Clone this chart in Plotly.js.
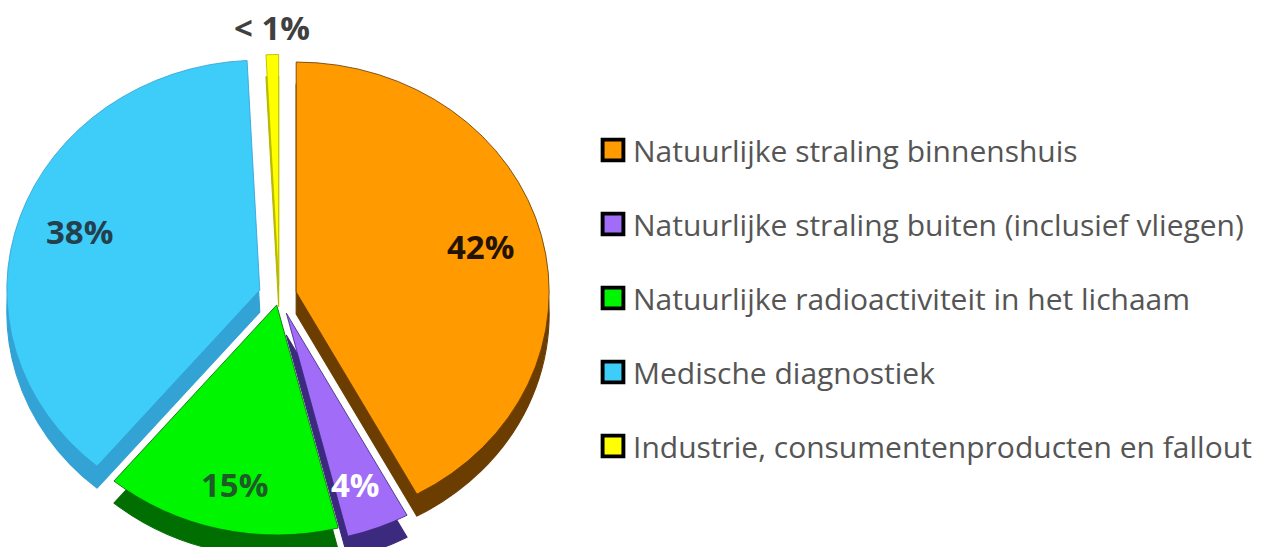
<!DOCTYPE html>
<html><head><meta charset="utf-8">
<script src="https://cdn.plot.ly/plotly-3.0.1.min.js"></script>
<style>html,body{margin:0;padding:0;overflow:hidden;background:#fff}#chart{width:1273px;height:575px}</style>
</head><body><div id="chart"></div>
<script>
// ---- data ----
const categories = [
  "Natuurlijke straling binnenshuis",
  "Natuurlijke straling buiten (inclusief vliegen)",
  "Natuurlijke radioactiviteit in het lichaam",
  "Medische diagnostiek",
  "Industrie, consumentenproducten en fallout"
];
const values = [42, 4, 15, 38, 0.8];
const valueLabels = ["42%", "4%", "15%", "38%", "< 1%"];

// ---- styles ----
const topColors  = ["#ff9a00", "#a06cf8", "#00f500", "#3ecdf8", "#ffff00"];
const sideColors = ["#6b3d00", "#3b2a7e", "#006e00", "#33a2d4", "#b8b800"];
const labelColors = ["#241300", "#ffffff", "#1d5c27", "#24404f", "#404040"];
const pulls = [0.07, 0.08, 0.04, 0.08, 0.05];

// geometry (pixels): pie centre, vertical radius, horizontal stretch (tilted 3D look), wall depth
const W = 1273, H = 575, cx = 279, cy = 296, R = 230, sx = 1.1, depth = 22;
const FONT = "Open Sans, Arial, sans-serif";
const maxPull = Math.max(...pulls);
const half = R * (1 + maxPull);
function dom(cyPx) {
  return {x: [(cx - half - 3) / W, (cx + half + 3) / W],
          y: [1 - (cyPx + half) / H, 1 - (cyPx - half) / H]};
}

const pieBase = {
  type: 'pie', values: values, labels: categories, sort: false,
  direction: 'clockwise', rotation: 0, pull: pulls,
  textinfo: 'none', hoverinfo: 'skip', showlegend: false
};
const shadowPie = Object.assign({}, pieBase, {
  domain: dom(cy + depth),
  marker: {colors: sideColors, line: {color: sideColors, width: 1}}
});
const topPie = Object.assign({}, pieBase, {
  domain: dom(cy),
  marker: {colors: topColors, line: {color: sideColors, width: 0.8}}
});

// legend entries
const legendTraces = categories.map((c, i) => ({
  type: 'scatter', mode: 'markers', x: [null], y: [null], name: c,
  legendgroup: 'g' + i, hoverinfo: 'skip',
  marker: {symbol: 'square', size: 16, color: topColors[i], line: {color: '#000', width: 3}}
}));

// value labels positioned along each slice's bisector
const total = values.reduce((a, b) => a + b, 0);
let cum = 0;
const annotations = values.map((v, i) => {
  const mid = (cum + v / 2) / total * 2 * Math.PI;
  cum += v;
  const small = v / total < 0.01;
  const rx = pulls[i] * R + (small ? R + 27 : 0.75 * R);
  const ry = pulls[i] * R + (small ? R + 27 : 0.80 * R);
  const px = cx + sx * rx * Math.sin(mid), py = cy - ry * Math.cos(mid);
  return {
    xref: 'paper', yref: 'paper', x: px / W, y: 1 - py / H,
    xanchor: 'center', yanchor: 'middle', showarrow: false,
    text: valueLabels[i],
    font: {family: FONT, size: 33, weight: 'bold', color: labelColors[i]}
  };
});

const layout = {
  width: W, height: H,
  margin: {l: 0, r: 0, t: 0, b: 0},
  paper_bgcolor: '#fff', plot_bgcolor: '#fff',
  xaxis: {visible: false}, yaxis: {visible: false},
  showlegend: true,
  legend: {
    x: 593 / W, xanchor: 'left', y: 1 - 124 / H, yanchor: 'top',
    traceorder: 'grouped', tracegroupgap: 32,
    font: {family: FONT, size: 30, color: '#555555'},
    bgcolor: 'rgba(0,0,0,0)'
  },
  annotations: annotations,
  font: {family: FONT}
};

Plotly.newPlot('chart', [shadowPie, topPie].concat(legendTraces), layout,
  {displayModeBar: false, staticPlot: true}).then(gd => {
  // stretch the pie horizontally to give the tilted 3D-pie proportions
  const g = gd.querySelector('.pielayer');
  if (g) g.setAttribute('transform', `translate(${cx},0) scale(${sx},1) translate(${-cx},0)`);
  // slightly larger legend swatches
  gd.querySelectorAll('.legend .legendpoints path').forEach(p => {
    const t = p.getAttribute('transform') || '';
    p.setAttribute('transform', t + ' scale(1.3)');
  });
});
</script></body></html>
